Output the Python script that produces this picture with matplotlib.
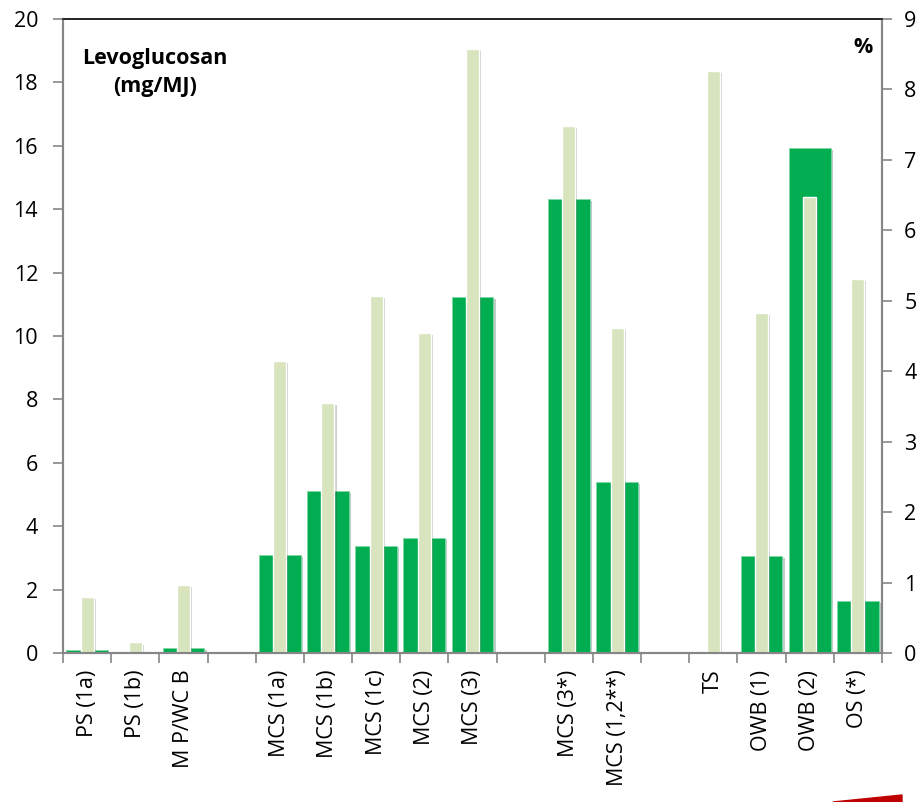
import matplotlib
matplotlib.use("Agg")
import matplotlib.pyplot as plt
import matplotlib.patheffects as pe
from matplotlib.patches import Polygon
import numpy as np

plt.rcParams['font.family'] = ['Open Sans', 'DejaVu Sans']

# sample labels, empty strings leave a gap between the groups
labels = ['PS (1a)', 'PS (1b)', 'M P/WC B', '',
          'MCS (1a)', 'MCS (1b)', 'MCS (1c)', 'MCS (2)', 'MCS (3)', '',
          'MCS (3*)', 'MCS (1,2**)', '',
          'TS', 'OWB (1)', 'OWB (2)', 'OS (*)']
# levoglucosan emission, mg/MJ (left axis)
levo = [0.11, 0.0, 0.15, 0.0,
        3.09, 5.10, 3.39, 3.62, 11.24, 0.0,
        14.31, 5.39, 0.0,
        0.0, 3.05, 15.93, 1.65]
# share, % (right axis)
pct = [0.80, 0.15, 0.96, 0.0,
       4.14, 3.55, 5.07, 4.54, 8.57, 0.0,
       7.48, 4.62, 0.0,
       8.26, 4.83, 6.48, 5.31]

dark = '#00AD50'
light = '#D7E4BD'
grey = '#868686'
fs = 15.5

x = np.arange(len(labels))
fig = plt.figure(figsize=(9.19, 8.02), dpi=100)
ax = fig.add_axes([0.0686, 0.1858, 0.8911, 0.7905])
ax2 = ax.twinx()

shadow = [pe.SimplePatchShadow(offset=(1.5, -1.5), alpha=0.25), pe.Normal()]
ax.bar(x, levo, width=0.87, color=dark, edgecolor='#7FD8A5', linewidth=0.6,
       path_effects=shadow)
ax2.bar(x, pct, width=0.27, color=light, edgecolor='white', linewidth=1.0,
        path_effects=shadow)

ax.set_xlim(-0.5, len(labels) - 0.5)
ax.set_ylim(0, 20)
ax2.set_ylim(0, 9)
ax.set_yticks(np.arange(0, 21, 2))
ax2.set_yticks(np.arange(0, 10, 1))

# tick marks between categories, labels at the centres
ax.set_xticks(np.arange(-0.5, len(labels), 1.0))
ax.set_xticklabels([])
ax.set_xticks(x, minor=True)
ax.set_xticklabels(labels, minor=True, rotation=90, fontsize=fs)
ax.tick_params(axis='x', which='major', length=7, width=1.2, color=grey)
ax.tick_params(axis='x', which='minor', length=0, pad=12)
ax.tick_params(axis='y', length=7, width=1.2, color=grey, labelsize=fs, pad=11)
ax2.tick_params(axis='y', length=7, width=1.2, color=grey, labelsize=fs, pad=9)

for a in (ax, ax2):
    for side in ('left', 'right', 'bottom'):
        a.spines[side].set_color(grey)
        a.spines[side].set_linewidth(1.5)
    a.spines['top'].set_color('#222222')
    a.spines['top'].set_linewidth(1.2)

ax.text(0.112, 0.916, 'Levoglucosan\n(mg/MJ)', transform=ax.transAxes,
        ha='center', va='center', fontsize=fs, fontweight='bold',
        linespacing=1.45)
ax2.text(0.988, 0.955, '%', transform=ax2.transAxes, ha='right', va='center',
         fontsize=fs, fontweight='bold')

# red sliver in the lower right corner
fig.patches.append(Polygon([[833 / 919, 0.0], [902 / 919, 7 / 802], [902 / 919, 0.0]],
                           closed=True, color='#C00000', transform=fig.transFigure))

fig.savefig('out.png', dpi=100)
